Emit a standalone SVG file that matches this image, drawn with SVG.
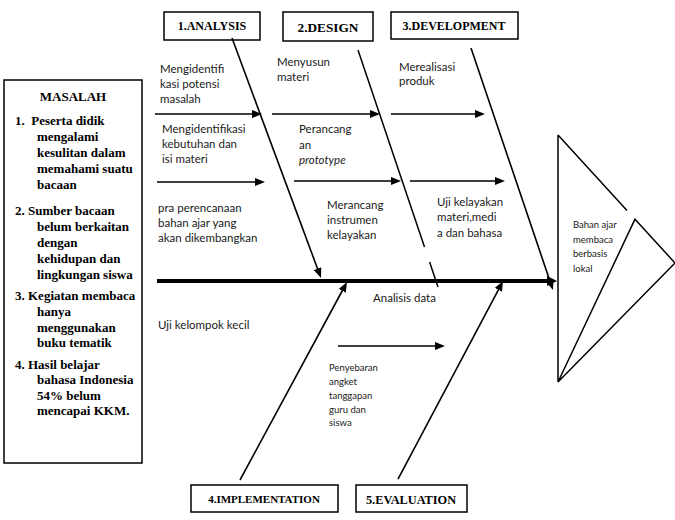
<svg xmlns="http://www.w3.org/2000/svg" width="675" height="520" viewBox="0 0 675 520">
<defs>
<marker id="ah" viewBox="0 0 10 8" markerWidth="10" markerHeight="8" refX="2" refY="4" orient="auto" markerUnits="userSpaceOnUse">
<path d="M0,0 L10,4 L0,8 z" fill="#000"/>
</marker>
<marker id="ahb" viewBox="0 0 10 10" markerWidth="10" markerHeight="10" refX="2" refY="5" orient="auto" markerUnits="userSpaceOnUse">
<path d="M0,0 L10,5 L0,10 z" fill="#000"/>
</marker>
</defs>
<style>
.box{fill:#fff;stroke:#000;stroke-width:1.5}
.hd{font-family:"Liberation Serif",serif;font-weight:bold;text-anchor:middle;fill:#000}
.ms{font-family:"Liberation Serif",serif;font-weight:bold;font-size:13px;fill:#000}
.lb{font-family:Lato,"Liberation Sans",sans-serif;font-size:11.5px;fill:#1a1a1a}
.sm{font-family:Lato,"Liberation Sans",sans-serif;font-size:9.5px;fill:#1a1a1a}
.ln{stroke:#000;stroke-width:1.5;fill:none}
.ar{stroke:#000;stroke-width:1.6;fill:none;marker-end:url(#ah)}
</style>
<rect width="675" height="520" fill="#fff"/>

<g id="masalah">
<rect class="box" x="4" y="80" width="138" height="383"/>
<text class="ms" x="73" y="101" text-anchor="middle">MASALAH</text>
<text class="ms" x="15" y="125">1.&#160; Peserta didik</text>
<text class="ms" x="37" y="141">mengalami</text>
<text class="ms" x="37" y="157">kesulitan dalam</text>
<text class="ms" x="37" y="173">memahami suatu</text>
<text class="ms" x="37" y="189">bacaan</text>
<text class="ms" x="15" y="215">2. Sumber bacaan</text>
<text class="ms" x="37" y="231">belum berkaitan</text>
<text class="ms" x="37" y="247">dengan</text>
<text class="ms" x="37" y="263">kehidupan dan</text>
<text class="ms" x="37" y="279">lingkungan siswa</text>
<text class="ms" x="15" y="300">3. Kegiatan membaca</text>
<text class="ms" x="37" y="316">hanya</text>
<text class="ms" x="37" y="332">menggunakan</text>
<text class="ms" x="37" y="347">buku tematik</text>
<text class="ms" x="15" y="369">4. Hasil belajar</text>
<text class="ms" x="37" y="384">bahasa Indonesia</text>
<text class="ms" x="37" y="400">54% belum</text>
<text class="ms" x="37" y="415">mencapai KKM.</text>
</g>

<g id="analysis">
<rect class="box" x="164" y="12" width="96" height="28"/>
<text class="hd" x="212" y="30" font-size="12">1.ANALYSIS</text>
</g>
<g id="design">
<rect class="box" x="283" y="12" width="90" height="29"/>
<text class="hd" x="328" y="32" font-size="13.3">2.DESIGN</text>
</g>
<g id="development">
<rect class="box" x="391" y="12" width="127" height="27"/>
<text class="hd" x="454" y="30" font-size="12">3.DEVELOPMENT</text>
</g>
<g id="implementation">
<rect class="box" x="191" y="485" width="147" height="27"/>
<text class="hd" x="264" y="503" font-size="11">4.IMPLEMENTATION</text>
</g>
<g id="evaluation">
<rect class="box" x="356" y="485" width="111" height="27"/>
<text class="hd" x="411" y="504" font-size="12.3">5.EVALUATION</text>
</g>

<g id="output">
<path class="ln" d="M558,135 L627,210.5 M635,219.2 L675,263 L558,382 Z M558,135 L558,382"/>
<text class="sm"><tspan x="573" y="228">Bahan ajar</tspan><tspan x="573" y="243">membaca</tspan><tspan x="573" y="257">berbasis</tspan><tspan x="573" y="272">lokal</tspan></text>
</g>

<g id="connectors">
<line x1="157" y1="281" x2="549" y2="281" stroke="#000" stroke-width="4" marker-end="url(#ahb)"/>
<line class="ar" x1="232" y1="38" x2="318.2" y2="270.5"/>
<line class="ln" x1="358" y1="50" x2="424.5" y2="247"/>
<line class="ln" x1="429.6" y1="262" x2="438" y2="287"/>
<line class="ar" x1="471" y1="48" x2="550.4" y2="282.4"/>
<line class="ar" x1="240" y1="480" x2="343.2" y2="289"/>
<line class="ar" x1="398" y1="479" x2="499.3" y2="288.1"/>
<line class="ar" x1="155" y1="114" x2="254" y2="114"/>
<line class="ar" x1="272" y1="114" x2="372" y2="114"/>
<line class="ar" x1="391" y1="114" x2="477" y2="114"/>
<line class="ar" x1="157" y1="182" x2="257" y2="182"/>
<line class="ar" x1="294" y1="181" x2="393" y2="181"/>
<line class="ar" x1="410" y1="181" x2="497" y2="181"/>
<line class="ar" x1="338" y1="346" x2="437" y2="346"/>
</g>

<g id="labels">
<text class="lb"><tspan x="160" y="73">Mengidentifi</tspan><tspan x="160" y="88">kasi potensi</tspan><tspan x="160" y="103">masalah</tspan></text>
<text class="lb"><tspan x="277" y="66">Menyusun</tspan><tspan x="277" y="81">materi</tspan></text>
<text class="lb"><tspan x="399" y="71">Merealisasi</tspan><tspan x="399" y="85">produk</tspan></text>
<text class="lb"><tspan x="162" y="133">Mengidentifikasi</tspan><tspan x="162" y="148">kebutuhan dan</tspan><tspan x="162" y="163">isi materi</tspan></text>
<text class="lb"><tspan x="299" y="133">Perancang</tspan><tspan x="299" y="149">an</tspan><tspan x="299" y="164" font-style="italic">prototype</tspan></text>
<text class="lb"><tspan x="158" y="212">pra perencanaan</tspan><tspan x="158" y="227">bahan ajar yang</tspan><tspan x="158" y="242">akan dikembangkan</tspan></text>
<text class="lb"><tspan x="327" y="209">Merancang</tspan><tspan x="327" y="224">instrumen</tspan><tspan x="327" y="239">kelayakan</tspan></text>
<text class="lb"><tspan x="437" y="206">Uji kelayakan</tspan><tspan x="437" y="221">materi,medi</tspan><tspan x="437" y="237">a dan bahasa</tspan></text>
<text class="lb" x="373" y="302">Analisis data</text>
<text class="lb" x="158" y="329">Uji kelompok kecil</text>
<text class="sm"><tspan x="329" y="371">Penyebaran</tspan><tspan x="329" y="385">angket</tspan><tspan x="329" y="399">tanggapan</tspan><tspan x="329" y="413">guru dan</tspan><tspan x="329" y="426">siswa</tspan></text>
</g>
</svg>
